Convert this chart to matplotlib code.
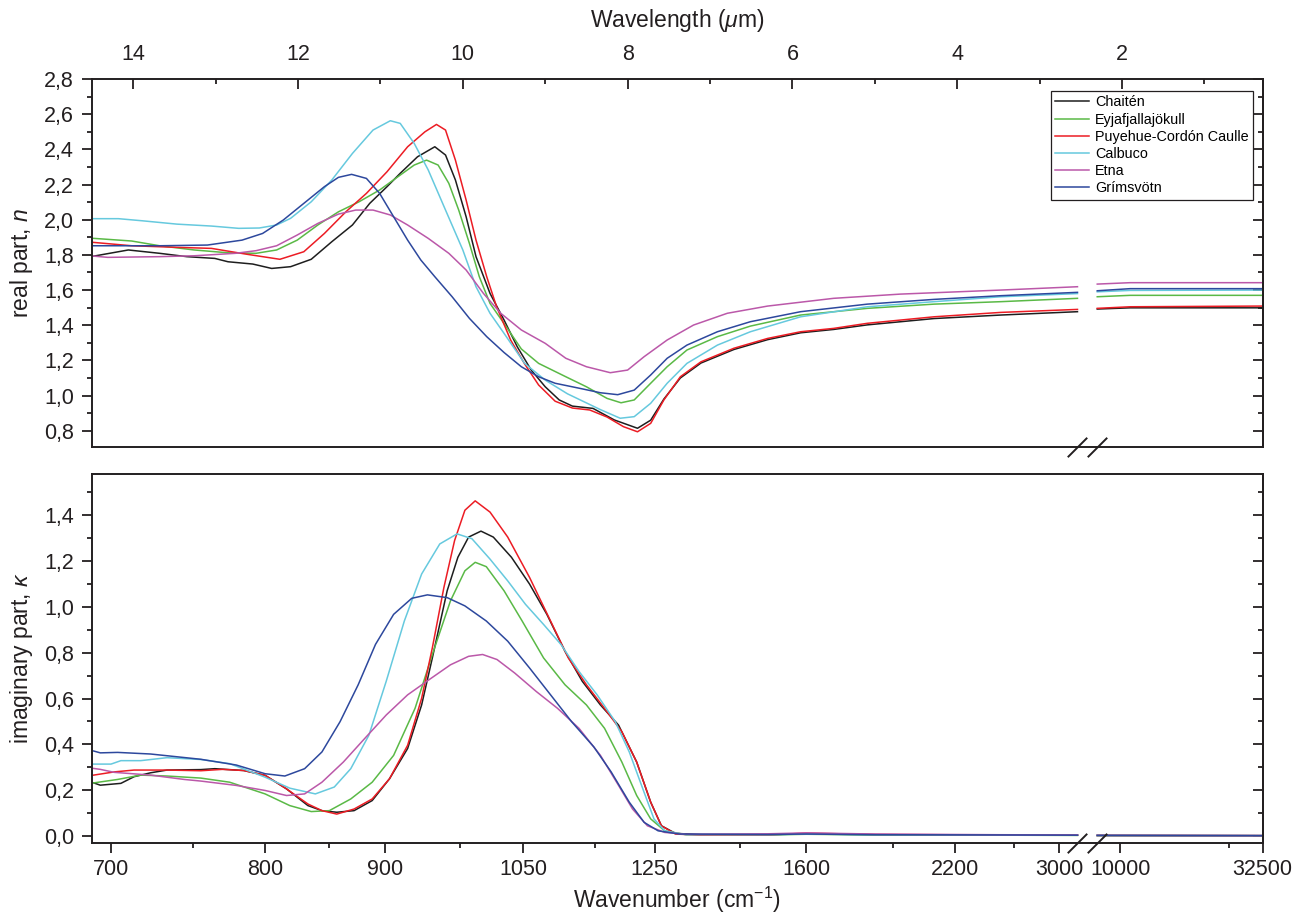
import numpy as np
import matplotlib
matplotlib.use("Agg")
import matplotlib.pyplot as plt
import matplotlib.transforms as mtransforms
from matplotlib.ticker import FuncFormatter, FixedLocator, MultipleLocator

plt.rcParams['font.family'] = ['Liberation Sans', 'DejaVu Sans']
plt.rcParams['mathtext.fontset'] = 'custom'
plt.rcParams['mathtext.rm'] = 'Liberation Sans'
plt.rcParams['mathtext.it'] = 'Liberation Sans:italic'

# ---- data (x = wavelength in um) ----
names = ["Chaitén", "Eyjafjallajökull", "Puyehue-Cordón Caulle", "Calbuco", "Etna", "Grímsvötn"]
colors = ['#1e1e1e', '#5ab946', '#ec1c24', '#66c9de', '#bb58a9', '#2d489d']

# real part n
lam_n_cha = [14.48, 14.06, 13.68, 13.35, 13.01, 12.85, 12.55, 12.32, 12.09, 11.84, 11.59, 11.34, 11.13, 10.92,
             10.76, 10.55, 10.34, 10.21, 10.09, 9.96, 9.84, 9.67, 9.50, 9.34, 9.17, 9.00, 8.83, 8.67, 8.42,
             8.16, 7.88, 7.72, 7.56, 7.36, 7.11, 6.71, 6.30, 5.90, 5.50, 5.09, 4.28, 3.47, 2.54, 2.30, 1.90, 0.29]
n_cha = [1.793, 1.828, 1.809, 1.790, 1.780, 1.761, 1.748, 1.723, 1.733, 1.775, 1.875, 1.970, 2.093, 2.188,
         2.264, 2.358, 2.415, 2.368, 2.226, 2.017, 1.790, 1.581, 1.430, 1.278, 1.145, 1.050, 0.975, 0.940, 0.927,
         0.861, 0.814, 0.860, 0.980, 1.100, 1.185, 1.262, 1.318, 1.357, 1.376, 1.402, 1.438, 1.458, 1.477, 1.492,
         1.499, 1.499]

lam_n_eyj = [14.48, 14.02, 13.68, 13.26, 12.85, 12.51, 12.26, 12.01, 11.76, 11.51, 11.26, 11.01, 10.76, 10.59,
             10.44, 10.30, 10.17, 10.05, 9.92, 9.80, 9.67, 9.50, 9.29, 9.08, 8.75, 8.50, 8.25, 8.08, 7.92, 7.72,
             7.52, 7.28, 6.91, 6.51, 5.90, 5.09, 4.28, 3.47, 2.54, 2.30, 1.90, 0.29]
n_eyj = [1.894, 1.879, 1.852, 1.828, 1.812, 1.809, 1.828, 1.884, 1.970, 2.045, 2.102, 2.169, 2.254, 2.311,
         2.339, 2.311, 2.207, 2.055, 1.865, 1.676, 1.524, 1.410, 1.265, 1.183, 1.107, 1.050, 0.984, 0.959, 0.975,
         1.070, 1.164, 1.259, 1.335, 1.395, 1.458, 1.496, 1.520, 1.534, 1.553, 1.562, 1.570, 1.570]

lam_n_puy = [14.48, 14.02, 13.47, 13.05, 12.64, 12.22, 11.93, 11.68, 11.42, 11.17, 10.92, 10.67, 10.46, 10.32,
             10.21, 10.09, 9.96, 9.84, 9.71, 9.59, 9.42, 9.25, 9.08, 8.88, 8.67, 8.46, 8.25, 8.05, 7.88, 7.72,
             7.56, 7.36, 7.11, 6.71, 6.30, 5.90, 5.50, 5.09, 4.28, 3.47, 2.54, 2.30, 1.90, 0.29]
n_puy = [1.871, 1.852, 1.843, 1.837, 1.805, 1.775, 1.818, 1.922, 2.045, 2.150, 2.273, 2.415, 2.500, 2.542,
         2.510, 2.339, 2.112, 1.884, 1.676, 1.505, 1.316, 1.180, 1.060, 0.968, 0.929, 0.918, 0.878, 0.823, 0.794,
         0.842, 0.975, 1.107, 1.192, 1.269, 1.325, 1.363, 1.382, 1.411, 1.448, 1.473, 1.490, 1.496, 1.505, 1.509]

lam_n_cal = [14.48, 14.18, 13.89, 13.47, 13.05, 12.72, 12.47, 12.26, 12.09, 11.84, 11.59, 11.34, 11.09, 10.88,
             10.76, 10.59, 10.42, 10.21, 10.00, 9.84, 9.67, 9.50, 9.25, 9.00, 8.73, 8.33, 8.09, 7.92, 7.72, 7.52,
             7.28, 6.91, 6.51, 5.90, 5.09, 4.28, 3.47, 2.54, 2.30, 1.90, 0.29]
n_cal = [2.006, 2.006, 1.994, 1.975, 1.964, 1.951, 1.953, 1.970, 2.008, 2.102, 2.226, 2.377, 2.510, 2.563,
         2.548, 2.434, 2.283, 2.055, 1.828, 1.619, 1.468, 1.354, 1.183, 1.088, 1.010, 0.920, 0.871, 0.880, 0.956,
         1.070, 1.183, 1.287, 1.363, 1.448, 1.505, 1.534, 1.562, 1.580, 1.590, 1.598, 1.600]

lam_n_etn = [14.48, 14.31, 13.68, 13.26, 12.76, 12.51, 12.26, 12.01, 11.76, 11.51, 11.30, 11.09, 10.88, 10.67,
             10.42, 10.17, 9.96, 9.75, 9.54, 9.29, 9.00, 8.75, 8.50, 8.21, 8.00, 7.80, 7.52, 7.20, 6.79, 6.30,
             5.50, 4.69, 3.47, 2.54, 2.30, 1.90, 0.29]
n_etn = [1.793, 1.786, 1.790, 1.795, 1.809, 1.824, 1.852, 1.913, 1.979, 2.032, 2.055, 2.055, 2.027, 1.970,
         1.894, 1.809, 1.714, 1.581, 1.468, 1.373, 1.297, 1.212, 1.164, 1.130, 1.145, 1.221, 1.316, 1.401, 1.468,
         1.509, 1.553, 1.577, 1.600, 1.619, 1.634, 1.642, 1.642]

lam_n_gri = [14.48, 13.68, 13.10, 12.68, 12.43, 12.18, 11.93, 11.68, 11.51, 11.35, 11.17, 11.01, 10.84, 10.67,
             10.51, 10.34, 10.13, 9.92, 9.71, 9.50, 9.29, 9.08, 8.88, 8.58, 8.33, 8.12, 7.92, 7.72, 7.52, 7.28,
             6.91, 6.51, 5.90, 5.09, 4.28, 3.47, 2.54, 2.30, 1.90, 0.29]
n_gri = [1.852, 1.852, 1.856, 1.884, 1.922, 1.998, 2.093, 2.188, 2.241, 2.258, 2.235, 2.150, 2.017, 1.884,
         1.771, 1.676, 1.562, 1.439, 1.335, 1.245, 1.164, 1.107, 1.070, 1.041, 1.016, 1.005, 1.031, 1.117, 1.212,
         1.287, 1.363, 1.420, 1.477, 1.520, 1.547, 1.568, 1.587, 1.596, 1.608, 1.608]

# imaginary part kappa
lam_k_cha = [14.48, 14.40, 14.15, 13.99, 13.79, 13.59, 13.18, 13.01, 12.66, 12.40, 12.14, 11.88, 11.71, 11.53,
             11.32, 11.10, 10.89, 10.67, 10.50, 10.37, 10.19, 10.06, 9.93, 9.78, 9.63, 9.41, 9.19, 8.98, 8.76,
             8.55, 8.33, 8.11, 7.89, 7.72, 7.59, 7.42, 7.11, 6.30, 5.83, 5.00, 3.50, 2.54, 2.30, 0.29]
k_cha = [0.232, 0.222, 0.230, 0.259, 0.276, 0.288, 0.290, 0.294, 0.286, 0.265, 0.206, 0.133, 0.111, 0.104,
         0.111, 0.155, 0.250, 0.382, 0.572, 0.777, 1.070, 1.216, 1.304, 1.330, 1.304, 1.216, 1.099, 0.967, 0.806,
         0.675, 0.572, 0.484, 0.323, 0.148, 0.045, 0.012, 0.006, 0.006, 0.010, 0.006, 0.005, 0.004, 0.003, 0.002]

lam_k_eyj = [14.48, 14.19, 13.91, 13.59, 13.18, 12.83, 12.40, 12.10, 11.84, 11.62, 11.36, 11.10, 10.84, 10.58,
             10.37, 10.15, 9.975, 9.85, 9.715, 9.50, 9.28, 9.02, 8.76, 8.50, 8.28, 8.07, 7.89, 7.72, 7.55, 7.29,
             6.30, 5.83, 5.00, 3.50, 2.54, 2.30, 0.29]
k_eyj = [0.232, 0.247, 0.266, 0.262, 0.253, 0.235, 0.184, 0.133, 0.107, 0.111, 0.162, 0.235, 0.352, 0.557,
         0.792, 1.026, 1.157, 1.194, 1.175, 1.070, 0.938, 0.777, 0.660, 0.572, 0.470, 0.323, 0.177, 0.075, 0.023,
         0.006, 0.005, 0.008, 0.005, 0.004, 0.003, 0.002, 0.001]

lam_k_puy = [14.48, 14.23, 13.99, 13.59, 13.18, 12.92, 12.66, 12.40, 12.14, 11.88, 11.71, 11.53, 11.32, 11.10,
             10.89, 10.67, 10.50, 10.37, 10.23, 10.10, 9.975, 9.85, 9.67, 9.455, 9.19, 8.935, 8.72, 8.50, 8.28,
             8.07, 7.89, 7.72, 7.59, 7.42, 7.11, 6.30, 5.83, 5.00, 3.50, 2.54, 2.30, 0.29]
k_puy = [0.266, 0.280, 0.288, 0.288, 0.285, 0.291, 0.286, 0.265, 0.206, 0.140, 0.111, 0.096, 0.118, 0.162,
         0.250, 0.396, 0.601, 0.821, 1.084, 1.289, 1.421, 1.462, 1.413, 1.304, 1.128, 0.938, 0.777, 0.660, 0.557,
         0.455, 0.323, 0.148, 0.045, 0.009, 0.004, 0.005, 0.013, 0.007, 0.005, 0.004, 0.003, 0.002]

lam_k_cal = [14.48, 14.27, 14.15, 13.91, 13.59, 13.18, 12.83, 12.40, 12.10, 11.79, 11.56, 11.36, 11.14, 10.93,
             10.71, 10.50, 10.28, 10.07, 9.89, 9.67, 9.455, 9.24, 9.02, 8.81, 8.59, 8.37, 8.15, 7.98, 7.80, 7.68,
             7.55, 7.29, 6.30, 5.83, 5.00, 3.50, 2.54, 2.30, 0.29]
k_cal = [0.314, 0.314, 0.329, 0.329, 0.342, 0.334, 0.316, 0.257, 0.209, 0.184, 0.214, 0.294, 0.440, 0.675,
         0.938, 1.143, 1.274, 1.318, 1.297, 1.208, 1.113, 1.011, 0.923, 0.836, 0.718, 0.616, 0.499, 0.367, 0.191,
         0.075, 0.023, 0.006, 0.006, 0.009, 0.006, 0.005, 0.004, 0.003, 0.002]

lam_k_etn = [14.48, 14.40, 14.23, 13.79, 13.38, 13.18, 12.75, 12.40, 12.14, 11.92, 11.71, 11.45, 11.19, 10.93,
             10.67, 10.41, 10.15, 9.93, 9.76, 9.585, 9.37, 9.11, 8.85, 8.59, 8.33, 8.11, 7.94, 7.76, 7.55, 7.29,
             6.30, 5.83, 5.00, 3.50, 2.54, 2.30, 0.29]
k_etn = [0.295, 0.291, 0.278, 0.266, 0.247, 0.240, 0.221, 0.199, 0.177, 0.184, 0.235, 0.323, 0.426, 0.528,
         0.616, 0.682, 0.747, 0.784, 0.792, 0.770, 0.711, 0.631, 0.557, 0.470, 0.352, 0.221, 0.118, 0.045, 0.016,
         0.008, 0.010, 0.014, 0.009, 0.006, 0.005, 0.003, 0.002]

lam_k_gri = [14.48, 14.40, 14.19, 13.79, 13.18, 12.75, 12.40, 12.16, 11.92, 11.71, 11.49, 11.27, 11.06, 10.84,
             10.62, 10.43, 10.19, 9.975, 9.715, 9.455, 9.19, 8.935, 8.68, 8.41, 8.20, 7.98, 7.80, 7.63, 7.37,
             6.30, 5.83, 5.00, 3.50, 2.54, 2.30, 0.29]
k_gri = [0.371, 0.363, 0.365, 0.358, 0.335, 0.310, 0.272, 0.262, 0.294, 0.367, 0.499, 0.660, 0.836, 0.967,
         1.037, 1.052, 1.040, 1.004, 0.938, 0.850, 0.733, 0.616, 0.499, 0.389, 0.280, 0.148, 0.060, 0.023, 0.009,
         0.007, 0.009, 0.006, 0.005, 0.004, 0.003, 0.002]

real_sets = [(lam_n_cha, n_cha), (lam_n_eyj, n_eyj), (lam_n_puy, n_puy),
             (lam_n_cal, n_cal), (lam_n_etn, n_etn), (lam_n_gri, n_gri)]
imag_sets = [(lam_k_cha, k_cha), (lam_k_eyj, k_eyj), (lam_k_puy, k_puy),
             (lam_k_cal, k_cal), (lam_k_etn, k_etn), (lam_k_gri, k_gri)]

# axis break (in wavelength) and tick labels
axis_break = (2.54, 2.30)
wl_ticks = [14, 12, 10, 8, 6, 4, 2]
wl_minor = [13, 11, 9, 7, 5, 3, 1]
wn_labels = ['700', '800', '900', '1050', '1250', '1600', '2200', '3000', '10000', '32500']
wn_pos = [14.27, 12.40, 10.94, 9.27, 7.67, 5.83, 4.03, 2.76, 2.02, 0.294]
wn_minor = [13.27, 11.63, 10.04, 8.40, 6.63, 4.78, 3.31, 0.70]

dark = '#231f20'
comma = FuncFormatter(lambda v, p: f"{v:.1f}".replace('.', ','))

fig = plt.figure(figsize=(13.04, 9.13), dpi=100)
ax1 = fig.add_axes([0.0706, 0.5107, 0.8976, 0.4027])
ax2 = fig.add_axes([0.0706, 0.0772, 0.8976, 0.4036])


def draw(ax, lam, val, color, label=None):
    lam = np.asarray(lam)
    val = np.asarray(val)
    left = lam >= axis_break[0] - 1e-6
    ax.plot(lam[left], val[left], color=color, lw=1.1, label=label, solid_joinstyle='round')
    ax.plot(lam[~left], val[~left], color=color, lw=1.1, solid_joinstyle='round')


for (lam, v), c, nm in zip(real_sets, colors, names):
    draw(ax1, lam, v, c, nm)
for (lam, v), c in zip(imag_sets, colors):
    draw(ax2, lam, v, c)

for ax in (ax1, ax2):
    ax.set_xlim(14.5, 0.294)
    for s in ax.spines.values():
        s.set_linewidth(1.4)
        s.set_color(dark)
    ax.yaxis.set_major_formatter(comma)
    ax.yaxis.set_minor_locator(MultipleLocator(0.1))
    ax.tick_params(axis='y', which='major', direction='out', length=7, width=1.3,
                   labelsize=15.5, pad=6, colors=dark)
    ax.tick_params(axis='y', which='minor', direction='out', length=3.5, width=1.3, colors=dark)
    # break marks on the bottom spine
    trans = mtransforms.blended_transform_factory(ax.transData, ax.transAxes)
    for xb in axis_break:
        ax.plot([xb], [0], transform=trans, marker=[(-1, -1), (1, 1)], markersize=14,
                color=dark, mew=1.4, linestyle='none', clip_on=False, zorder=5)

# top panel
ax1.set_ylim(0.709, 2.8)
ax1.set_yticks(np.arange(0.8, 2.81, 0.2))
ax1.xaxis.set_ticks_position('top')
ax1.xaxis.set_label_position('top')
ax1.set_xticks(wl_ticks)
ax1.xaxis.set_minor_locator(FixedLocator(wl_minor))
ax1.tick_params(axis='x', which='major', direction='in', length=7, width=1.3,
                labelsize=15.5, pad=10, colors=dark)
ax1.tick_params(axis='x', which='minor', direction='in', length=3.5, width=1.3, colors=dark)
ax1.set_xlabel('Wavelength ($\\mu$m)', fontsize=16.5, color=dark)
ax1.xaxis.set_label_coords(0.5, 1.142)
ax1.set_ylabel('real part, $n$', fontsize=16.5, color=dark)
ax1.yaxis.set_label_coords(-0.049, 0.5)

# bottom panel
ax2.set_ylim(-0.028, 1.579)
ax2.set_yticks(np.arange(0, 1.41, 0.2))
ax2.set_xticks(wn_pos, wn_labels)
ax2.xaxis.set_minor_locator(FixedLocator(wn_minor))
ax2.tick_params(axis='x', which='major', direction='out', length=7, width=1.3,
                labelsize=15.5, pad=5, colors=dark)
ax2.tick_params(axis='x', which='minor', direction='out', length=3.5, width=1.3, colors=dark)
ax2.set_xlabel('Wavenumber (cm$^{-1}$)', fontsize=16.5, color=dark)
ax2.xaxis.set_label_coords(0.5, -0.1146)
ax2.set_ylabel('imaginary part, $\\kappa$', fontsize=16.5, color=dark)
ax2.yaxis.set_label_coords(-0.049, 0.5)

# right-hand inward ticks
for ax, major in ((ax1, np.arange(0.8, 2.81, 0.2)), (ax2, np.arange(0, 1.41, 0.2))):
    sec = ax.secondary_yaxis('right')
    sec.set_yticks(major)
    sec.yaxis.set_minor_locator(MultipleLocator(0.1))
    sec.tick_params(which='major', direction='in', length=7, width=1.3, labelright=False, colors=dark)
    sec.tick_params(which='minor', direction='in', length=3.5, width=1.3, colors=dark)
    sec.spines['right'].set_linewidth(1.4)
    sec.spines['right'].set_color(dark)

leg = ax1.legend(loc='upper right', bbox_to_anchor=(0.9919, 0.9674), borderaxespad=0,
                 fontsize=10.4, frameon=True, fancybox=False, edgecolor=dark, framealpha=1,
                 handlelength=2.3, handletextpad=0.45, labelspacing=0.22, borderpad=0.3)
leg.get_frame().set_linewidth(0.9)

fig.savefig('out.png', dpi=100)
